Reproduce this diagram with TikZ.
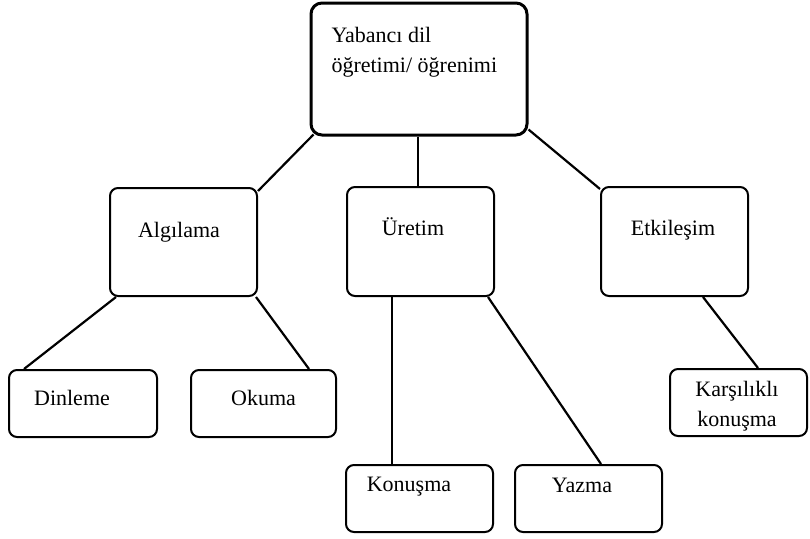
\documentclass[tikz,border=0pt]{standalone}
\usepackage{fontspec}
\setmainfont{Liberation Serif}
\usetikzlibrary{calc}

\begin{document}
\begin{tikzpicture}[x=1pt,y=-1pt,
 every node/.style={draw,rounded corners=8pt,line width=2pt,inner sep=0pt,
  font=\fontsize{22}{30}\selectfont},
 conn/.style={line width=2.2pt}]
\useasboundingbox (0,0) rectangle (810,538);
%Nodes
\path
 (419,69) node[minimum width=216pt,minimum height=132pt,line width=3pt,rounded corners=11pt] (top) {}
 (183.5,242) node[minimum width=147pt,minimum height=108pt] (alg) {}
 (420.5,241.5) node[minimum width=147pt,minimum height=109pt] (ure) {}
 (674.5,241.5) node[minimum width=147pt,minimum height=109pt] (etk) {}
 (83,403.5) node[minimum width=148pt,minimum height=67pt] (din) {}
 (263.5,403.5) node[minimum width=145pt,minimum height=67pt] (oku) {}
 (419.5,498.5) node[minimum width=147pt,minimum height=67pt] (kon) {}
 (588.5,498.5) node[minimum width=147pt,minimum height=67pt] (yaz) {}
 (738.5,402.5) node[minimum width=137pt,minimum height=67pt] (kar) {}
 ;
%Edges
\draw[conn] ([xshift=4pt,yshift=2pt]top.south west) -- ([yshift=-4pt]alg.north east);
\draw[conn] ([xshift=-1pt]top.south) -- ([xshift=-2.5pt]ure.north);
\draw[conn] ([yshift=7pt]top.south east) -- ([yshift=-3pt]etk.north west);
\draw[conn] ([xshift=7pt]alg.south west) -- ([xshift=16pt]din.north west);
\draw[conn] ([xshift=-2pt]alg.south east) -- ([xshift=-28pt]oku.north east);
\draw[conn] ([xshift=-28.5pt]ure.south) -- ([xshift=-27.5pt]kon.north);
\draw[conn] ([xshift=-7pt]ure.south east) -- ([xshift=12.5pt]yaz.north);
\draw[conn] ([xshift=28.5pt]etk.south) -- ([xshift=19.5pt]kar.north);

% Adding texts inside boxes
\node[draw=none,anchor=north west,align=left] at ($(top.north west) + (21,24.5)$) {Yabancı dil\\öğretimi/ öğrenimi};
\node[draw=none,anchor=base] at ($(alg) + (-4.5,-5)$) {Algılama};
\node[draw=none,anchor=base] at ($(ure) + (-7.5,-6.5)$) {Üretim};
\node[draw=none,anchor=base] at ($(etk) + (-1.5,-6.5)$) {Etkileşim};
\node[draw=none,anchor=base] at ($(din) + (-11,1.5)$) {Dinleme};
\node[draw=none,anchor=base] at ($(oku) + (0,1.5)$) {Okuma};
\node[draw=none,anchor=base] at ($(kon) + (-10.5,-7)$) {Konuşma};
\node[draw=none,anchor=base] at ($(yaz) + (-6.5,-6.5)$) {Yazma};
\node[draw=none,anchor=north,align=center] at ($(kar) + (-1.5,-21.8)$) {Karşılıklı\\konuşma};
\end{tikzpicture}
\end{document}
